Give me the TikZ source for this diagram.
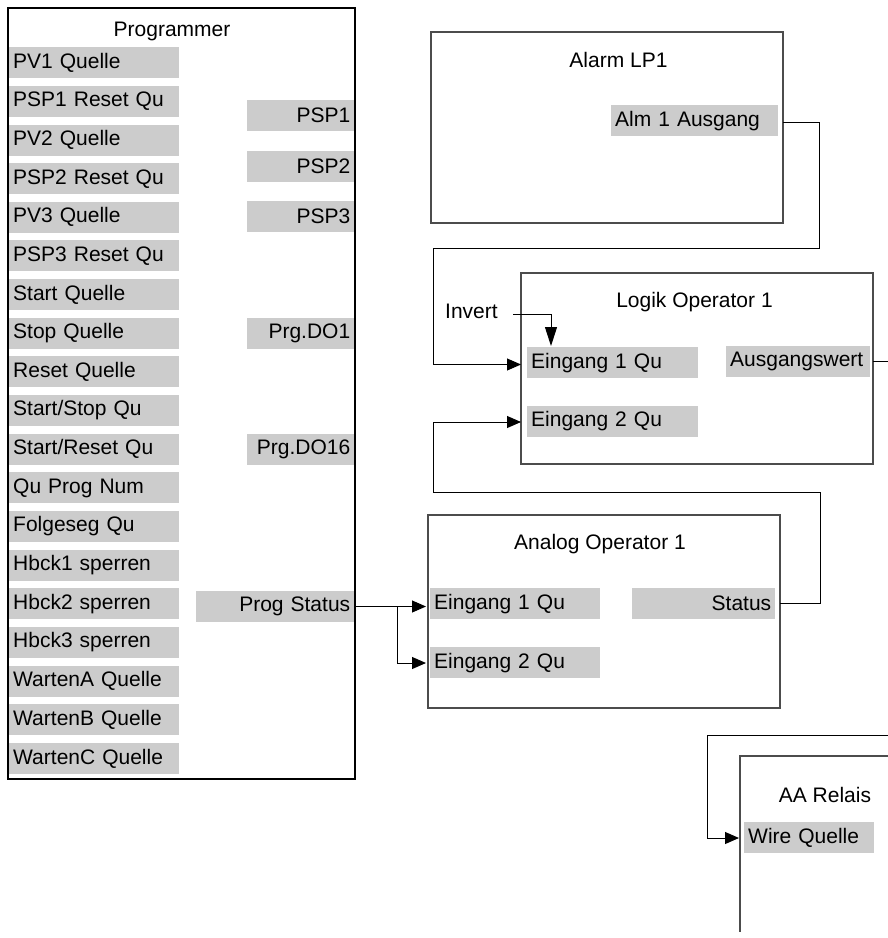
\documentclass[tikz,border=0pt]{standalone}
\usepackage{fontspec}
\setmainfont{Liberation Sans}
\usetikzlibrary{arrows.meta}
\begin{document}
\begin{tikzpicture}[x=1pt,y=-1pt,
  every node/.style={font=\fontsize{21}{24}\selectfont},
  blk/.style={draw=black!70, line width=1.3pt},
  lport/.style={fill=black!20, anchor=north west, minimum height=31pt, inner xsep=4pt, inner ysep=0pt, align=left},
  rport/.style={fill=black!20, anchor=north west, minimum height=31pt, inner xsep=4pt, inner ysep=0pt, align=right},
  ttl/.style={inner sep=0pt, anchor=base},
  conn/.style={draw=black, line width=1pt},
  arr/.style={conn, -{Triangle[length=14pt,width=12pt]}},
  arrv/.style={conn, -{Triangle[length=19pt,width=12pt]}}
]
\useasboundingbox (0,0) rectangle (888,938);

% Programmer
\draw[black, line width=2pt] (8,8) rectangle (355,779);
\node[ttl] (prg) at (172,36) {Programmer};
\foreach \t [count=\i from 0] in {PV1 Quelle,PSP1 Reset Qu,PV2 Quelle,PSP2 Reset Qu,PV3 Quelle,PSP3 Reset Qu,Start Quelle,Stop Quelle,Reset Quelle,Start/Stop Qu,Start/Reset Qu,Qu Prog Num,Folgeseg Qu,Hbck1 sperren,Hbck2 sperren,Hbck3 sperren,WartenA Quelle,WartenB Quelle,WartenC Quelle}
  \node[lport, text width=162pt] (l\i) at (9,{47+\i*38.65}) {\t};
\node[rport, text width=99pt] (psp1) at (247,100) {PSP1};
\node[rport, text width=99pt] (psp2) at (247,151) {PSP2};
\node[rport, text width=99pt] (psp3) at (247,201) {PSP3};
\node[rport, text width=99pt] (do1) at (247,318) {Prg.DO1};
\node[rport, text width=99pt] (do16) at (247,433.5) {Prg.DO16};
\node[rport, text width=150pt] (ps) at (196,591) {Prog Status};
\coordinate (prgE) at (355,606.5);

% Alarm LP1
\draw[blk] (431,32) rectangle (783,223);
\node[ttl] (alt) at (618.5,67) {Alarm LP1};
\node[lport, text width=159pt] (alm) at (611,105) {Alm 1 Ausgang};
\coordinate (almE) at (783,122);

% Logik Operator 1
\draw[blk] (521,273) rectangle (873,464);
\node[ttl] (lot) at (694.5,307) {Logik Operator 1};
\node[lport, text width=163pt] (li1) at (527,347) {Eingang 1 Qu};
\node[lport, text width=163pt] (li2) at (527,405.5) {Eingang 2 Qu};
\node[lport, text width=136pt] (aus) at (726,345.5) {Ausgangswert};
\node[ttl, anchor=base west] (inv) at (445,318) {Invert};

% Analog Operator 1
\draw[blk] (428,515) rectangle (780,708);
\node[ttl] (aot) at (600,549) {Analog Operator 1};
\node[lport, text width=162pt] (ai1) at (430,588) {Eingang 1 Qu};
\node[lport, text width=162pt] (ai2) at (430,647) {Eingang 2 Qu};
\node[rport, text width=135pt] (st) at (632,588) {Status};

% AA Relais
\draw[blk] (888,756) -- (740,756) -- (740,932);
\node[ttl] (aat) at (825,802) {AA Relais};
\node[lport, text width=122pt] (wq) at (744,822) {Wire Quelle};

% connectors
\coordinate (a1) at (819,122);
\coordinate (a2) at (819,248.5);
\coordinate (a3) at (433,248.5);
\draw[arr] (almE) -- (a1) -- (a2) -- (a3) |- (521,364.5);

\coordinate (invs) at (513,314);
\coordinate (invt) at (551,346);
\draw[arrv] (invs) -| (invt);

\coordinate (b1) at (820,603.5);
\coordinate (b2) at (820,492);
\coordinate (b3) at (433,492);
\draw[arr] (780,603.5) -- (b1) -- (b2) -- (b3) |- (521,422);

\coordinate (br) at (397,606.5);
\draw[arr] (prgE) -- (426,606.5);
\draw[arr] (br) |- (426,663);

\draw[conn] (873,361) -- (888,361);

\coordinate (c1) at (707,735);
\draw[conn] (888,735) -- (c1);
\draw[arr] (c1) |- (739,838);
\end{tikzpicture}
\end{document}
